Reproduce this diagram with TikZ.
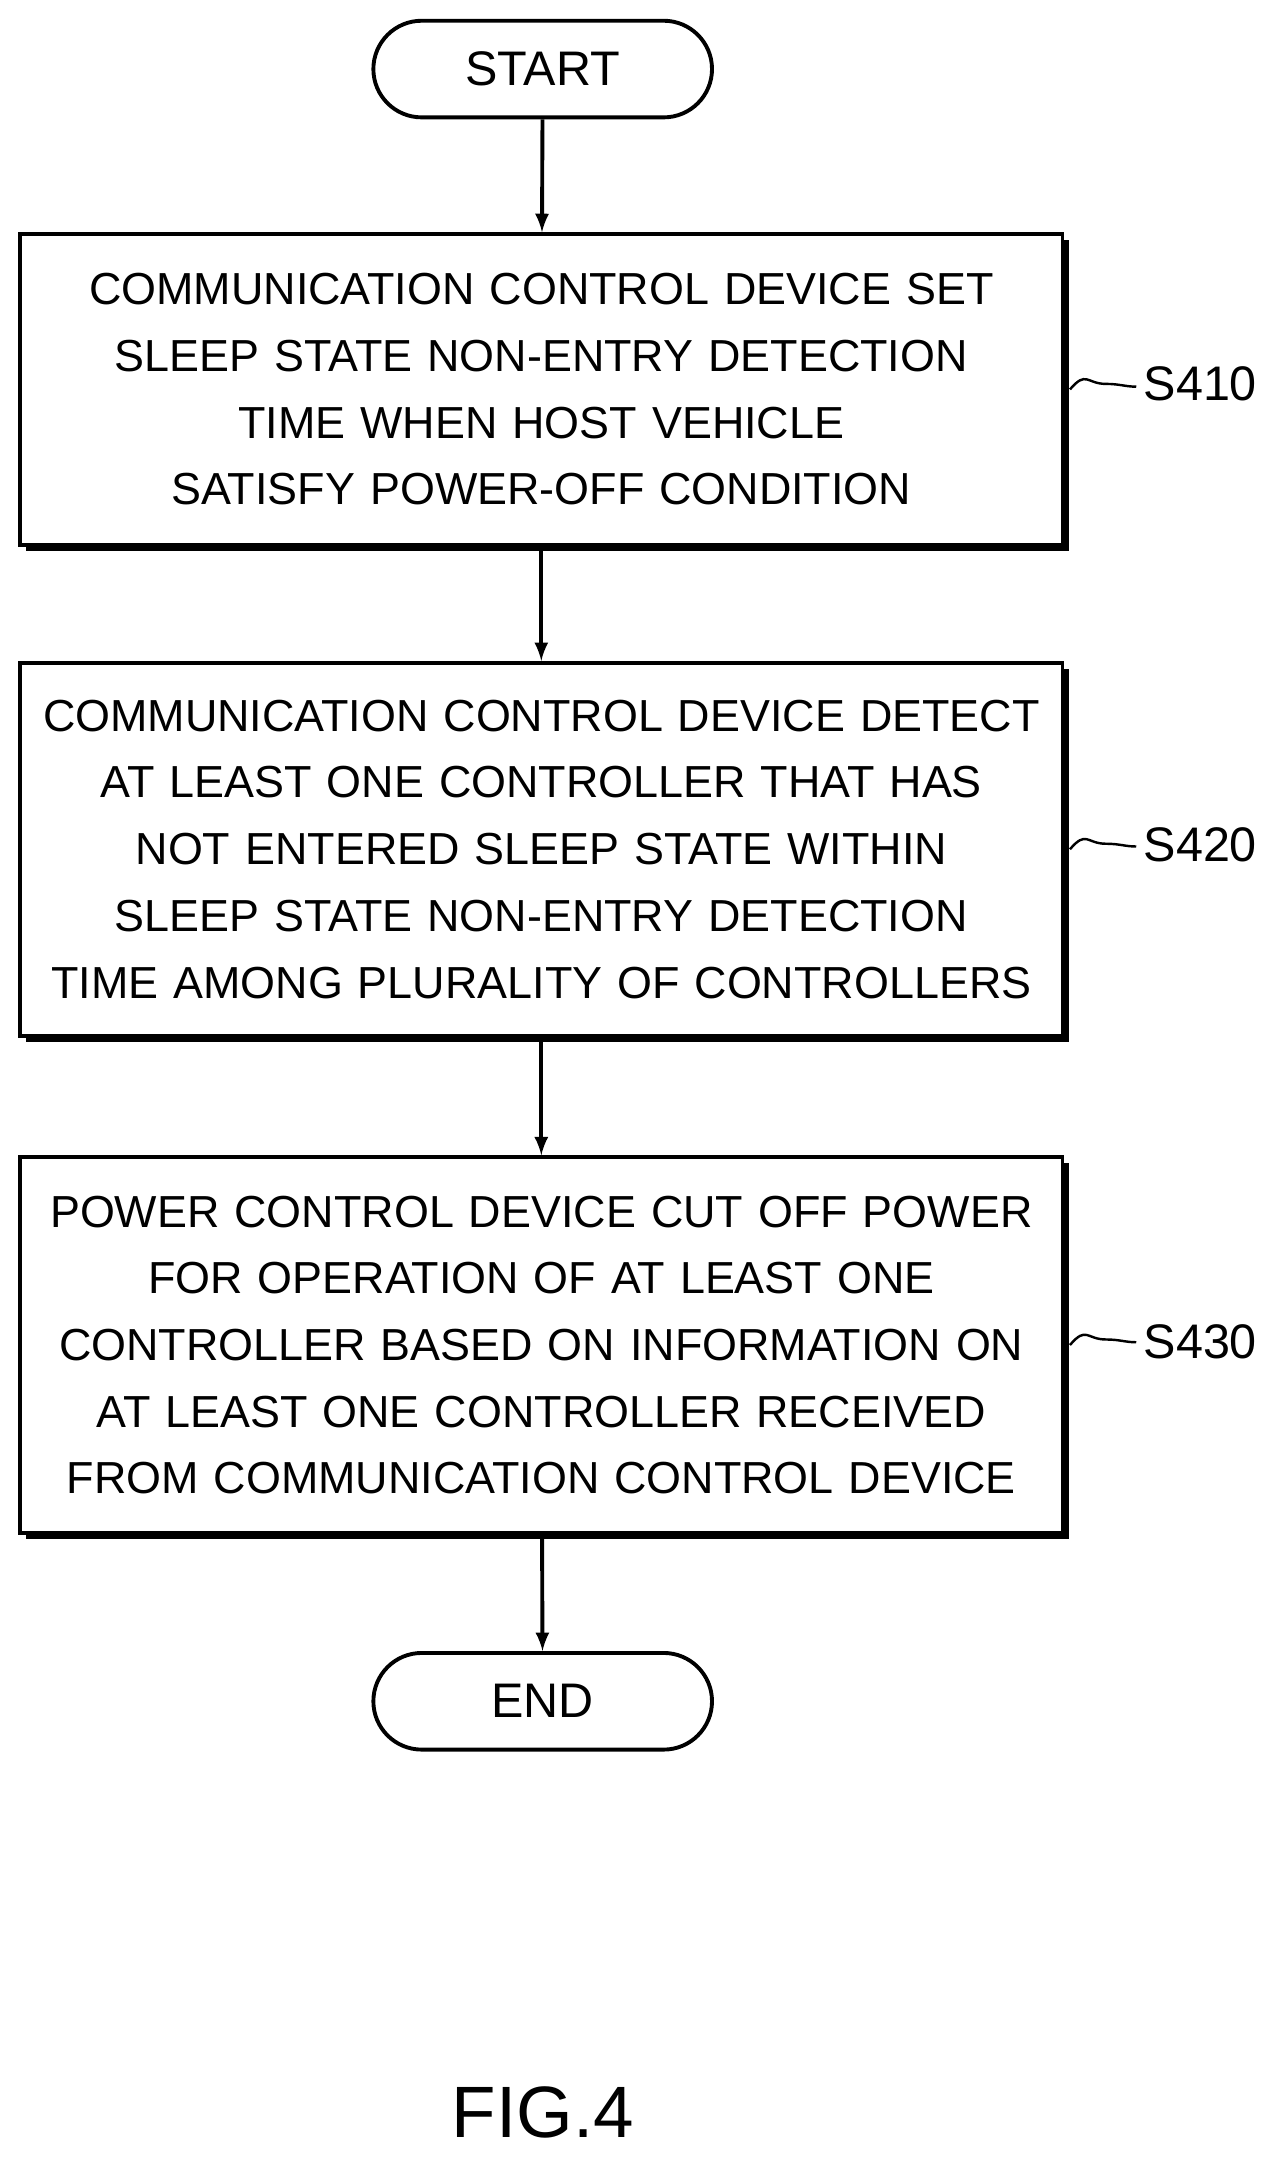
\documentclass[tikz,border=0pt]{standalone}
\usepackage{fontspec}
\setmainfont{Liberation Sans}
\usetikzlibrary{shapes.misc,shadows}
\tikzset{
  termbox/.style={draw, line width=1.6pt, rounded rectangle, fill=white,
    minimum width=5.14cm, minimum height=1.4cm, font=\fontsize{20}{24}\selectfont},
  stepbox/.style={draw, line width=1.6pt, fill=white, minimum width=15.1cm,
    text width=14.8cm, align=center, font=\fontsize{18.5}{27.5}\selectfont,
    drop shadow={shadow xshift=0.09cm, shadow yshift=-0.09cm, fill=black, opacity=1}},
  flow/.style={line width=1.6pt, -latex},
  tag/.style={font=\fontsize{20}{24}\selectfont, anchor=west}
}
\newcommand{\wavy}[1]{\draw[line width=1pt] (#1.east) ++(4,0)
  .. controls +(12,-14) and +(-14,0) .. ++(26,-4)
  .. controls +(10,0) and +(-8,0) .. ++(22,2);}
\begin{document}
\begin{tikzpicture}[x=0.02cm,y=-0.02cm]
\useasboundingbox (0,0) rectangle (920,1570);
% terminals
\node[termbox] (start) at (393,50) {START};
\node[termbox] (end) at (393,1232) {END};
% steps
\node[stepbox, minimum height=4.5cm] (s410) at (392,282)
  {COMMUNICATION CONTROL DEVICE SET\\SLEEP STATE NON-ENTRY DETECTION\\TIME WHEN HOST VEHICLE\\SATISFY POWER-OFF CONDITION};
\node[stepbox, minimum height=5.4cm] (s420) at (392,615)
  {COMMUNICATION CONTROL DEVICE DETECT\\AT LEAST ONE CONTROLLER THAT HAS\\NOT ENTERED SLEEP STATE WITHIN\\SLEEP STATE NON-ENTRY DETECTION\\TIME AMONG PLURALITY OF CONTROLLERS};
\node[stepbox, minimum height=5.44cm] (s430) at (392,974)
  {POWER CONTROL DEVICE CUT OFF POWER\\FOR OPERATION OF AT LEAST ONE\\CONTROLLER BASED ON INFORMATION ON\\AT LEAST ONE CONTROLLER RECEIVED\\FROM COMMUNICATION CONTROL DEVICE};
% connectors
\draw[flow] (start) -- (s410);
\draw[flow] (s410) -- (s420);
\draw[flow] (s420) -- (s430);
\draw[flow] (s430) -- (end);
% step labels
\wavy{s410}
\node[tag] (t410) at (822,278) {S410};
\wavy{s420}
\node[tag] (t420) at (822,612) {S420};
\wavy{s430}
\node[tag] (t430) at (822,972) {S430};
\node[font=\fontsize{30}{36}\selectfont] (fig) at (393,1530) {FIG.4};
\end{tikzpicture}
\end{document}
